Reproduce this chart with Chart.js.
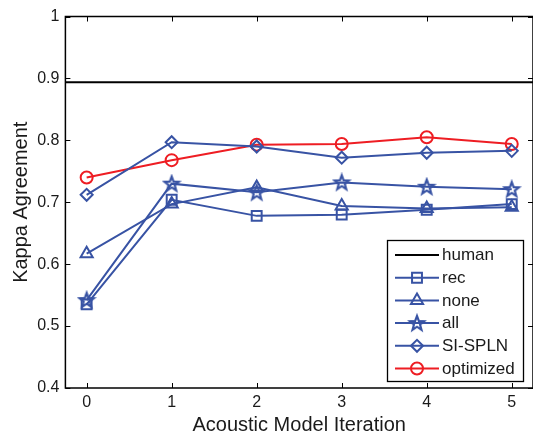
<!DOCTYPE html>
<html><head><meta charset="utf-8">
<script src="https://cdn.jsdelivr.net/npm/chart.js@4/dist/chart.umd.min.js"></script>
<style>html,body{margin:0;padding:0;background:#fff;overflow:hidden;} #wrap{width:533px;height:433px;position:relative;}</style>
</head><body><div id="wrap"><canvas id="c" width="533" height="433"></canvas></div>
<script>
// ---- data ----
const iterations = [0, 1, 2, 3, 4, 5];
const humanKappa = 0.894;
const recValues = [0.535, 0.704, 0.678, 0.680, 0.688, 0.697];
const noneValues = [0.617, 0.697, 0.724, 0.694, 0.690, 0.692];
const allValues = [0.542, 0.730, 0.716, 0.732, 0.725, 0.721];
const sisplnValues = [0.712, 0.797, 0.790, 0.772, 0.780, 0.783];
const optimizedValues = [0.740, 0.768, 0.793, 0.794, 0.805, 0.794];
const yTicks = [0.4, 0.5, 0.6, 0.7, 0.8, 0.9, 1];
const yTickLabels = ['0.4', '0.5', '0.6', '0.7', '0.8', '0.9', '1'];
const xTickLabels = ['0', '1', '2', '3', '4', '5'];
const xRange = [-0.25, 5.25];
const yRange = [0.4, 1];

// ---- styles ----
const FONT = "'Liberation Sans', Arial, Helvetica, sans-serif";
const BLUE = '#3853A4';
const RED = '#EE1D23';
const TXT = '#1a1a1a';

function makeStar(color) {
  const c = document.createElement('canvas');
  c.width = 20; c.height = 20;
  const g = c.getContext('2d');
  const cx = 10, cy = 10.5, R = 7.6, r = 3.2;
  g.beginPath();
  for (let i = 0; i < 10; i++) {
    const ang = -Math.PI / 2 + i * Math.PI / 5;
    const rad = i % 2 === 0 ? R : r;
    const px = cx + Math.cos(ang) * rad, py = cy + Math.sin(ang) * rad;
    if (i === 0) g.moveTo(px, py); else g.lineTo(px, py);
  }
  g.closePath();
  g.strokeStyle = color; g.lineWidth = 2.2; g.lineJoin = 'miter';
  g.stroke();
  return c;
}
const starImg = makeStar(BLUE);

const pts = arr => iterations.map((x, i) => ({x: x, y: arr[i]}));

function series(label, arr, color, style, radius) {
  return {
    label, data: pts(arr), borderColor: color, backgroundColor: 'rgba(0,0,0,0)',
    borderWidth: 2, pointStyle: style, pointRadius: radius, pointBorderWidth: 2,
    pointBorderColor: color, pointBackgroundColor: 'rgba(0,0,0,0)', tension: 0, fill: false
  };
}

const datasets = [
  { label: 'human', data: [{x: xRange[0], y: humanKappa}, {x: xRange[1], y: humanKappa}],
    borderColor: '#000', borderWidth: 2, pointRadius: 0, fill: false },
  series('rec', recValues, BLUE, 'rect', 7),
  series('none', noneValues, BLUE, 'triangle', 7),
  series('all', allValues, BLUE, starImg, 7),
  series('SI-SPLN', sisplnValues, BLUE, 'rectRot', 6),
  series('optimized', optimizedValues, RED, 'circle', 6)
];

const boxPlugin = {
  id: 'matlabBox',
  afterDatasetsDraw(chart) {
    const {ctx, chartArea: a, scales} = chart;
    ctx.save();
    ctx.strokeStyle = '#000';
    ctx.lineWidth = 1.5;
    ctx.strokeRect(a.left, a.top, a.right - a.left, a.bottom - a.top);
    ctx.lineWidth = 1;
    const tl = 5;
    ctx.beginPath();
    iterations.forEach(v => {
      const x = Math.round(scales.x.getPixelForValue(v)) + 0.5;
      ctx.moveTo(x, a.bottom); ctx.lineTo(x, a.bottom - tl);
      ctx.moveTo(x, a.top); ctx.lineTo(x, a.top + tl);
    });
    yTicks.forEach(v => {
      const y = Math.round(scales.y.getPixelForValue(v)) + 0.5;
      ctx.moveTo(a.left, y); ctx.lineTo(a.left + tl, y);
      ctx.moveTo(a.right, y); ctx.lineTo(a.right - tl, y);
    });
    ctx.stroke();
    ctx.restore();
  }
};

function drawMarker(ctx, style, color, radius, x, y) {
  if (style && typeof style !== 'string') {
    ctx.drawImage(style, x - style.width / 2, y - style.height / 2);
    return;
  }
  ctx.save();
  ctx.strokeStyle = color; ctx.fillStyle = 'rgba(0,0,0,0)'; ctx.lineWidth = 2;
  if (Chart.helpers && Chart.helpers.drawPoint) {
    Chart.helpers.drawPoint(ctx, {pointStyle: style, radius: radius, rotation: 0, borderWidth: 2}, x, y);
  }
  ctx.restore();
}

const legendPlugin = {
  id: 'matlabLegend',
  afterDraw(chart) {
    const {ctx} = chart;
    const bx = 387, by = 240, bw = 136, bh = 141;
    ctx.save();
    ctx.fillStyle = '#fff';
    ctx.fillRect(bx, by, bw, bh);
    ctx.strokeStyle = '#000'; ctx.lineWidth = 1.3;
    ctx.strokeRect(bx + 0.5, by + 0.5, bw, bh);
    const y0 = 255, step = 22.7;
    chart.data.datasets.forEach((ds, i) => {
      const y = y0 + i * step;
      ctx.strokeStyle = ds.borderColor; ctx.lineWidth = 2;
      ctx.beginPath(); ctx.moveTo(395, y); ctx.lineTo(439, y); ctx.stroke();
      if (ds.pointRadius) drawMarker(ctx, ds.pointStyle, ds.borderColor, ds.pointRadius, 417, y);
      ctx.fillStyle = TXT;
      ctx.font = '17px ' + FONT;
      ctx.textBaseline = 'middle'; ctx.textAlign = 'left';
      ctx.fillText(ds.label, 442, y + 0.5);
    });
    ctx.restore();
  }
};

new Chart(document.getElementById('c'), {
  type: 'line',
  data: { datasets },
  options: {
    responsive: false, animation: false,
    layout: { autoPadding: false, padding: { top: 16.5, right: -2, left: 0, bottom: 0 } },
    plugins: { legend: { display: false }, tooltip: { enabled: false } },
    scales: {
      x: {
        type: 'linear', min: xRange[0], max: xRange[1],
        afterBuildTicks: s => { s.ticks = iterations.map(v => ({value: v})); },
        afterFit: s => { s.height = 45; s.paddingLeft = 0; s.paddingRight = 0; },
        grid: { display: false, drawTicks: false }, border: { display: false },
        ticks: { callback: (v, i) => xTickLabels[iterations.indexOf(v)], color: TXT,
                 font: { family: FONT, size: 16 }, padding: 5, maxRotation: 0 },
        title: { display: true, text: 'Acoustic Model Iteration', color: TXT,
                 font: { family: FONT, size: 20, lineHeight: 0.8 }, padding: 0 }
      },
      y: {
        type: 'linear', min: yRange[0], max: yRange[1],
        afterBuildTicks: s => { s.ticks = yTicks.map(v => ({value: v})); },
        afterFit: s => { s.width = 65.4; },
        grid: { display: false, drawTicks: false }, border: { display: false },
        ticks: { callback: (v) => yTickLabels[yTicks.indexOf(v)], color: TXT,
                 font: { family: FONT, size: 16 }, padding: 6 },
        title: { display: true, text: 'Kappa Agreement', color: TXT,
                 font: { family: FONT, size: 20, lineHeight: 1 }, padding: { top: 11, bottom: 0 } }
      }
    }
  },
  plugins: [boxPlugin, legendPlugin]
});
</script>
</body></html>
